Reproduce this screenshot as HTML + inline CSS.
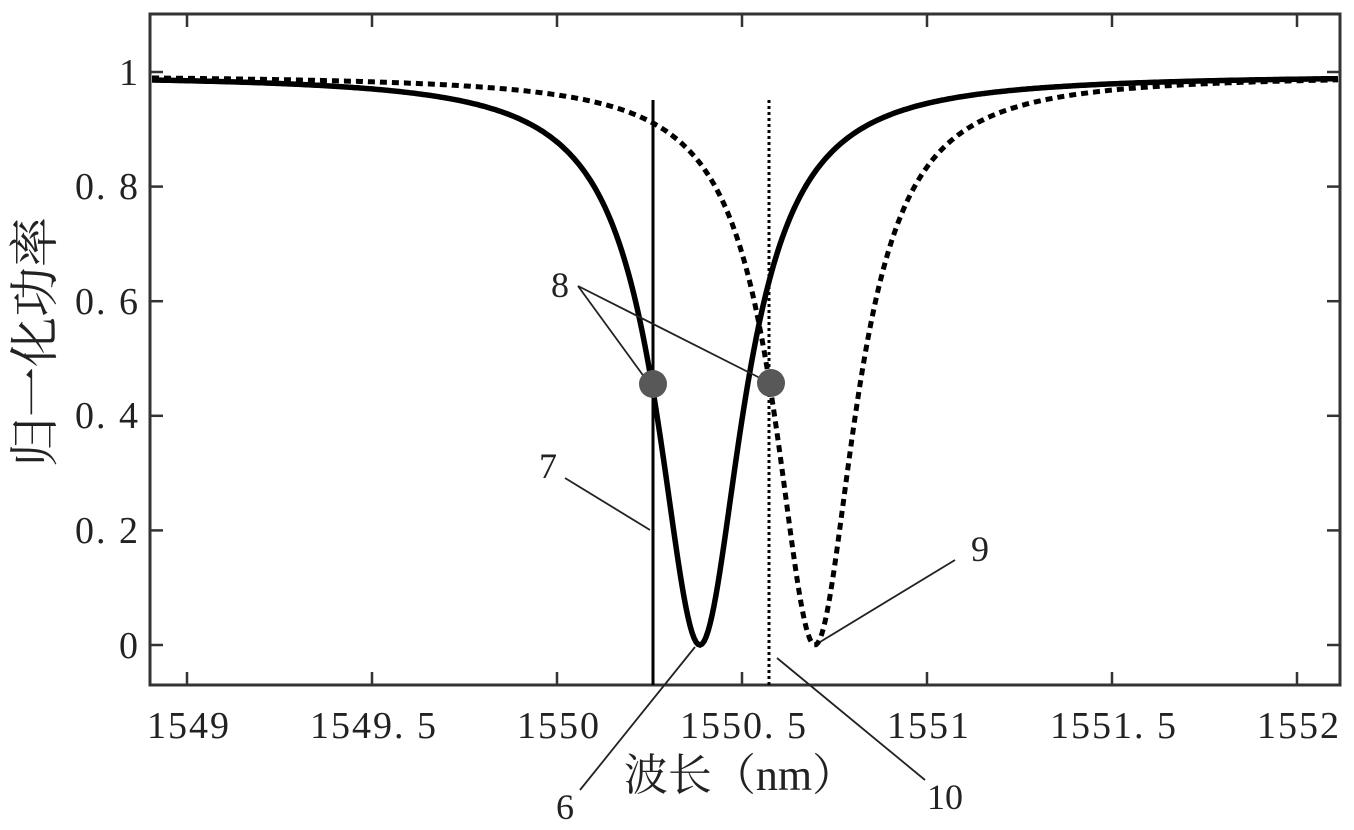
<!DOCTYPE html>
<html><head><meta charset="utf-8"><style>
html,body{margin:0;padding:0;background:#fff;}
svg{display:block;}
text{font-family:"Liberation Serif","Noto Serif CJK SC",serif;fill:#222;}
</style></head><body>
<svg id="s" width="1354" height="830" viewBox="0 0 1354 830" xmlns="http://www.w3.org/2000/svg">
<g stroke="#333" stroke-width="3" fill="none">
<rect x="150" y="14" width="1190" height="671"/>
</g>
<g stroke="#333" stroke-width="2.5">
<line x1="150" y1="72" x2="163" y2="72"/><line x1="1340" y1="72" x2="1327" y2="72"/>
<line x1="150" y1="186.6" x2="163" y2="186.6"/><line x1="1340" y1="186.6" x2="1327" y2="186.6"/>
<line x1="150" y1="301.2" x2="163" y2="301.2"/><line x1="1340" y1="301.2" x2="1327" y2="301.2"/>
<line x1="150" y1="415.8" x2="163" y2="415.8"/><line x1="1340" y1="415.8" x2="1327" y2="415.8"/>
<line x1="150" y1="530.4" x2="163" y2="530.4"/><line x1="1340" y1="530.4" x2="1327" y2="530.4"/>
<line x1="150" y1="645" x2="163" y2="645"/><line x1="1340" y1="645" x2="1327" y2="645"/>
<line x1="187" y1="685" x2="187" y2="672"/><line x1="187" y1="14" x2="187" y2="27"/>
<line x1="372" y1="685" x2="372" y2="672"/><line x1="372" y1="14" x2="372" y2="27"/>
<line x1="557" y1="685" x2="557" y2="672"/><line x1="557" y1="14" x2="557" y2="27"/>
<line x1="742" y1="685" x2="742" y2="672"/><line x1="742" y1="14" x2="742" y2="27"/>
<line x1="927" y1="685" x2="927" y2="672"/><line x1="927" y1="14" x2="927" y2="27"/>
<line x1="1112" y1="685" x2="1112" y2="672"/><line x1="1112" y1="14" x2="1112" y2="27"/>
<line x1="1297" y1="685" x2="1297" y2="672"/><line x1="1297" y1="14" x2="1297" y2="27"/>
</g>
<g font-size="38" text-anchor="end" letter-spacing="2">
<text x="140" y="85">1</text>
<text x="140" y="199">0. 8</text>
<text x="140" y="314">0. 6</text>
<text x="140" y="428">0. 4</text>
<text x="140" y="543">0. 2</text>
<text x="140" y="658">0</text>
</g>
<g font-size="38" text-anchor="middle" letter-spacing="2">
<text x="189" y="738">1549</text>
<text x="374" y="738">1549. 5</text>
<text x="559" y="738">1550</text>
<text x="744" y="738">1550. 5</text>
<text x="929" y="738">1551</text>
<text x="1114" y="738">1551. 5</text>
<text x="1299" y="738">1552</text>
</g>
<text x="740" y="790" font-size="44" text-anchor="middle">波长（nm）</text>
<text transform="translate(52,342) rotate(-90)" font-size="50" text-anchor="middle">归一化功率</text>
<path id="p1" fill="none" stroke="#000" stroke-width="5.5"/>
<path id="p2" fill="none" stroke="#000" stroke-width="5" stroke-dasharray="7,5"/>
<line x1="653" y1="100" x2="653" y2="685" stroke="#000" stroke-width="3"/>
<line x1="769" y1="100" x2="769" y2="685" stroke="#000" stroke-width="3" stroke-dasharray="3,3"/>
<g stroke="#222" stroke-width="1.8">
<line x1="578" y1="286" x2="645" y2="378"/>
<line x1="578" y1="286" x2="760" y2="378"/>
<line x1="565" y1="478" x2="650" y2="530"/>
<line x1="955" y1="560" x2="820" y2="642"/>
<line x1="580" y1="790" x2="695" y2="647"/>
<line x1="925" y1="780" x2="777" y2="658"/>
</g>
<circle cx="653" cy="384" r="14" fill="#585858"/>
<circle cx="771" cy="383" r="14" fill="#585858"/>
<g font-size="36" text-anchor="middle">
<text x="560" y="297">8</text>
<text x="548" y="478">7</text>
<text x="980" y="561">9</text>
<text x="565" y="819">6</text>
<text x="945" y="809">10</text>
</g>
</svg>
<script>
function mk(c,g){var d="";for(var x=152;x<=1338;x+=2){var l=1549+(x-187)/370;var D=(l-c)/g;var T=1-1/(1+D*D);var y=645-573*T*0.995;d+=(x==152?"M":"L")+x+","+y.toFixed(1);}return d;}
document.getElementById("p1").setAttribute("d",mk(1550.386,0.141));
document.getElementById("p2").setAttribute("d",mk(1550.697,0.133));
</script>
</body></html>
